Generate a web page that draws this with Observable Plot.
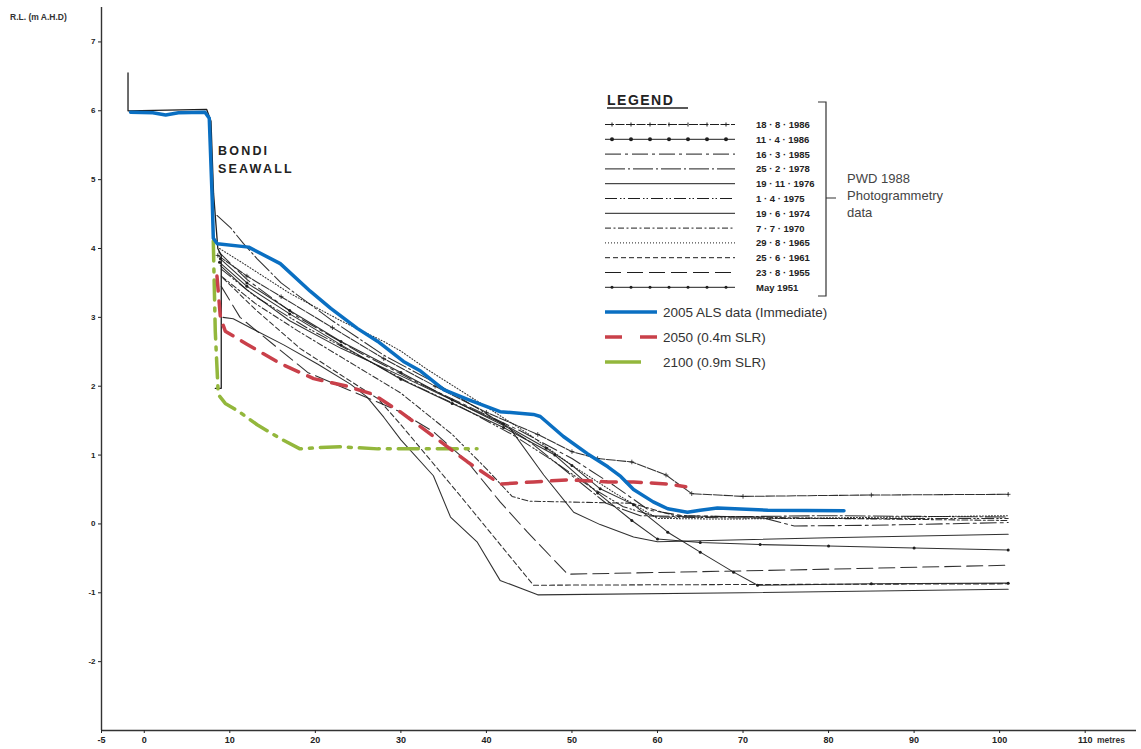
<!DOCTYPE html>
<html><head><meta charset="utf-8">
<script src="https://cdn.jsdelivr.net/npm/d3@7"></script>
<script src="https://cdn.jsdelivr.net/npm/@observablehq/plot@0.6"></script>
<style>
body{margin:0;background:#fff;}
#wrap{position:relative;width:1141px;height:749px;font-family:"Liberation Sans",Arial,sans-serif;}
#wrap svg.ov{position:absolute;left:0;top:0;pointer-events:none;}
</style></head><body><div id="wrap"></div>
<script>
// ---------- axis ticks ----------
const xTicks = [-5, 0, 10, 20, 30, 40, 50, 60, 70, 80, 90, 100, 110];
const yTicks = [-2, -1, 0, 1, 2, 3, 4, 5, 6, 7];

// ---------- seawall outline ----------
const seawall = [[-1.9,6.55],[-1.9,6.0],[7.3,6.02],[7.8,5.85],[8.1,4.8],[8.6,4.0],[9.0,3.9],[9.0,1.97],[8.3,1.97]];

// ---------- PWD 1988 photogrammetry profiles [chainage m, RL m AHD] ----------
const prof_18_8_1986 = [[8.6,3.9],[12,3.6],[16,3.3],[22,2.85],[28,2.4],[34,2.0],[40,1.62],[46,1.3],[50,1.05],[53,0.95],[57,0.9],[61,0.71],[64,0.44],[70,0.4],[85,0.42],[101,0.43]];
const prof_11_4_1986 = [[8.8,3.8],[12,3.45],[17,3.05],[23,2.6],[30,2.1],[36,1.75],[42,1.4],[48,1.0],[53,0.45],[57,0.05],[60,-0.22],[65,-0.27],[72,-0.3],[80,-0.32],[90,-0.35],[101,-0.38]];
const prof_16_3_1985 = [[8.7,3.95],[12,3.55],[18,3.0],[25,2.5],[32,2.05],[38,1.7],[44,1.35],[50,0.95],[55,0.55],[59,0.2],[63,0.12],[72,0.1],[76,-0.03],[85,-0.02],[101,0.02]];
const prof_25_2_1978 = [[8.5,4.48],[10.1,4.3],[11.6,4.07],[13.2,3.85],[16,3.5],[22,2.95],[28,2.45],[34,2.05],[40,1.6],[45,1.2],[50,0.7],[54,0.3],[58,0.12],[65,0.1],[80,0.12],[101,0.1]];
const prof_19_11_1976 = [[8.9,3.75],[12,3.4],[17,2.95],[23,2.55],[30,2.15],[36,1.8],[42.8,1.38],[46.7,0.71],[50.2,0.17],[53.3,-0.01],[57.2,-0.19],[60,-0.26],[80,-0.2],[101,-0.15]];
const prof_1_4_1975 = [[9.0,3.7],[13,3.3],[19,2.85],[25,2.45],[31,2.05],[37,1.7],[43,1.3],[48,0.9],[52,0.55],[56,0.25],[60,0.1],[75,0.08],[101,0.08]];
const prof_19_6_1974 = [[9.2,3.0],[10.4,2.98],[12.4,2.85],[16.3,2.6],[20.3,2.32],[24.1,2.03],[26,1.85],[28,1.55],[30,1.22],[33.8,0.7],[35.8,0.1],[38.9,-0.26],[41.6,-0.82],[46,-1.03],[70,-1.0],[101,-0.95]];
const prof_7_7_1970 = [[9.0,3.6],[13,3.2],[18,2.8],[24,2.35],[30,1.9],[36,1.3],[40,0.8],[43,0.4],[45,0.33],[57,0.3],[62,0.12],[80,0.08],[101,0.05]];
const prof_29_8_1965 = [[8.8,4.0],[12,3.75],[17,3.35],[23,2.95],[28,2.65],[30,2.51],[33,2.25],[40,1.7],[45,1.3],[50,0.85],[55,0.45],[60,0.08],[68,0.07],[101,0.12]];
const prof_25_6_1961 = [[9.2,3.57],[13.2,3.09],[18.2,2.55],[22.9,2.17],[27.3,1.82],[30,1.44],[37,0.4],[45.5,-0.89],[70,-0.88],[101,-0.87]];
const prof_23_8_1955 = [[9.0,3.45],[11.2,3.0],[19.1,2.2],[29.9,1.63],[33.8,1.34],[37.8,0.9],[41.6,0.32],[44.8,-0.12],[49.5,-0.73],[75,-0.67],[101,-0.6]];
const prof_may_1951 = [[8.9,3.85],[12,3.5],[17,3.1],[23,2.65],[30,2.2],[36,1.8],[42,1.45],[47,1.1],[50,0.85],[53.3,0.51],[57.2,0.28],[61.2,-0.12],[65,-0.41],[68.9,-0.7],[71.7,-0.89],[85,-0.87],[101,-0.86]];

// ---------- 2005 ALS and projections ----------
const als2005 = [[-1.6,5.98],[1,5.97],[2.5,5.94],[4,5.97],[7.1,5.98],[7.6,5.89],[7.95,4.69],[8.07,4.15],[8.54,4.07],[12.2,4.02],[15.9,3.78],[19.4,3.38],[21.8,3.13],[24.9,2.84],[27.3,2.65],[30.3,2.36],[32.3,2.22],[35.0,1.95],[37.8,1.81],[41.6,1.63],[45.5,1.59],[46.3,1.56],[49.0,1.27],[51.8,1.02],[54.2,0.83],[55.7,0.69],[57.2,0.50],[59.5,0.32],[61.2,0.22],[63.5,0.17],[65.0,0.20],[67.0,0.23],[72.9,0.20],[81.8,0.19]];
const slr2050 = [[8.5,3.6],[8.9,3.0],[9.47,2.80],[12.0,2.61],[15.9,2.33],[19.8,2.11],[23.7,2.00],[26.8,1.88],[29.9,1.63],[34.6,1.20],[37.8,0.90],[41.6,0.58],[45.5,0.61],[49.5,0.64],[54.2,0.61],[57.2,0.61],[61.2,0.58],[63.3,0.54]];
const slr2100 = [[8.07,4.11],[8.3,2.80],[8.65,1.88],[9.47,1.75],[11.2,1.62],[13.2,1.44],[15.9,1.24],[18.2,1.09],[20.6,1.11],[22.9,1.12],[27.3,1.09],[34.6,1.09],[38.9,1.09]];

// ---------- legend labels ----------
const profileLabels = ["18 · 8 · 1986","11 · 4 · 1986","16 · 3 · 1985","25 · 2 · 1978","19 · 11 · 1976","1 · 4 · 1975","19 · 6 · 1974","7 · 7 · 1970","29 · 8 · 1965","25 · 6 · 1961","23 · 8 · 1955","May  1951"];
const profileData = [prof_18_8_1986,prof_11_4_1986,prof_16_3_1985,prof_25_2_1978,prof_19_11_1976,prof_1_4_1975,prof_19_6_1974,prof_7_7_1970,prof_29_8_1965,prof_25_6_1961,prof_23_8_1955,prof_may_1951];
const seriesLabels = ["2005 ALS data (Immediate)","2050 (0.4m SLR)","2100 (0.9m SLR)"];
const bracketLines = ["PWD 1988","Photogrammetry","data"];

// ---------- styles (kept apart from data) ----------
const profileDash = ["9,1.5",null,"16,4,3,4","20,3,2,3",null,"12,3,1.5,2,1.5,3",null,"6,2.5,2,2.5","1,2","5,3","16,6",null];
const profileMarker = ["plus","dot",null,null,null,null,null,null,null,null,null,"dot"];
const BLUE="#0a6fc2", RED="#c9404a", GREEN="#93b73c", INK="#1e1e1e";

const X = d => d[0], Y = d => d[1];
const marks = [];
marks.push(Plot.ruleX([xTicks[0]], {y1: -3, y2: 7.5, stroke: "#333", strokeWidth: 1.4}));
marks.push(Plot.ruleY([-3], {x1: -5, x2: 116, stroke: "#333", strokeWidth: 1.4}));
marks.push(Plot.line(seawall, {x: X, y: Y, stroke: INK, strokeWidth: 1.3}));
profileData.forEach((pts, i) => {
  marks.push(Plot.line(pts, {x: X, y: Y, stroke: INK, strokeWidth: 1.05, strokeOpacity: 0.92,
    strokeDasharray: profileDash[i] || undefined}));
  if (profileMarker[i] === "dot") marks.push(Plot.dot(pts, {x: X, y: Y, r: 1.5, fill: INK}));
  if (profileMarker[i] === "plus") marks.push(Plot.dot(pts, {x: X, y: Y, r: 1.6, symbol: "plus", stroke: INK, strokeWidth: 0.8}));
});
marks.push(Plot.line(slr2100, {x: X, y: Y, stroke: GREEN, strokeWidth: 3.5, strokeDasharray: "20,8,3,8"}));
marks.push(Plot.line(slr2050, {x: X, y: Y, stroke: RED, strokeWidth: 3.5, strokeDasharray: "15,10"}));
marks.push(Plot.line(als2005, {x: X, y: Y, stroke: BLUE, strokeWidth: 3.5, curve: "linear"}));
marks.push(Plot.axisX({ticks: xTicks, tickSize: 3, tickPadding: 3, fontSize: 9, fontWeight: "bold", label: null, tickFormat: d => String(d)}));
marks.push(Plot.axisY({ticks: yTicks, tickSize: 3, tickPadding: 3, fontSize: 8, fontWeight: "bold", label: null, tickFormat: d => String(d)}));

const chart = Plot.plot({
  width: 1141, height: 749,
  marginLeft: 101, marginRight: 5, marginTop: 7, marginBottom: 19,
  x: {domain: [-5, 116]},
  y: {domain: [-3, 7.5]},
  style: {fontFamily: "'Liberation Sans', Arial, sans-serif", color: "#222", background: "#fff"},
  marks
});
const wrap = document.getElementById("wrap");
wrap.appendChild(chart);

// ---------- overlay: annotations and legend ----------
const ns = "http://www.w3.org/2000/svg";
const ov = document.createElementNS(ns, "svg");
ov.setAttribute("class", "ov"); ov.setAttribute("width", 1141); ov.setAttribute("height", 749);
wrap.appendChild(ov);
function el(tag, attrs, text) {
  const e = document.createElementNS(ns, tag);
  for (const k in attrs) e.setAttribute(k, attrs[k]);
  if (text != null) e.textContent = text;
  ov.appendChild(e); return e;
}
const sans = "'Liberation Sans', Arial, sans-serif";
el("text", {x: 10, y: 20, "font-family": sans, "font-size": 8.5, "font-weight": "bold", fill: "#333"}, "R.L. (m A.H.D)");
el("text", {x: 1097, y: 743, "font-family": sans, "font-size": 8.5, "font-weight": "bold", fill: "#333"}, "metres");
el("text", {x: 218, y: 155, "font-family": sans, "font-size": 12.5, "font-weight": "bold", "letter-spacing": 2.2, fill: "#222"}, "BONDI");
el("text", {x: 218, y: 173, "font-family": sans, "font-size": 12.5, "font-weight": "bold", "letter-spacing": 2.2, fill: "#222"}, "SEAWALL");
el("text", {x: 607, y: 105, "font-family": sans, "font-size": 14, "font-weight": "bold", "letter-spacing": 1.5, fill: "#222"}, "LEGEND");
el("line", {x1: 607, x2: 688, y1: 108, y2: 108, stroke: "#222", "stroke-width": 1.6});
profileLabels.forEach((lab, i) => {
  const y = 124.5 + i * 14.8;
  el("line", {x1: 605, x2: 735, y1: y, y2: y, stroke: INK, "stroke-width": 1, "stroke-dasharray": profileDash[i] || "none"});
  if (profileMarker[i]) {
    for (let k = 0; k < 7; k++) {
      const cx = 612 + k * 19;
      if (profileMarker[i] === "dot") el("circle", {cx, cy: y, r: i === 1 ? 2 : 1.5, fill: INK});
      else el("line", {x1: cx, x2: cx, y1: y - 2, y2: y + 2, stroke: INK, "stroke-width": 1});
    }
  }
  el("text", {x: 756, y: y + 3.5, "font-family": sans, "font-size": 9.5, "font-weight": "bold", fill: "#222"}, lab);
});
el("path", {d: "M818,102 L826,102 L826,296 L818,296 M826,198 L836,198", fill: "none", stroke: "#333", "stroke-width": 1.2});
bracketLines.forEach((t, i) => el("text", {x: 847, y: 183 + i * 17, "font-family": sans, "font-size": 13, fill: "#444"}, t));
const sy = [312, 337, 362];
el("line", {x1: 605, x2: 657, y1: sy[0], y2: sy[0], stroke: BLUE, "stroke-width": 3.5});
el("line", {x1: 605, x2: 660, y1: sy[1], y2: sy[1], stroke: RED, "stroke-width": 3.5, "stroke-dasharray": "17,18"});
el("line", {x1: 605, x2: 641, y1: sy[2], y2: sy[2], stroke: GREEN, "stroke-width": 3.5});
seriesLabels.forEach((t, i) => el("text", {x: 663, y: sy[i] + 5, "font-family": sans, "font-size": 13.5, fill: "#333"}, t));
</script></body></html>
